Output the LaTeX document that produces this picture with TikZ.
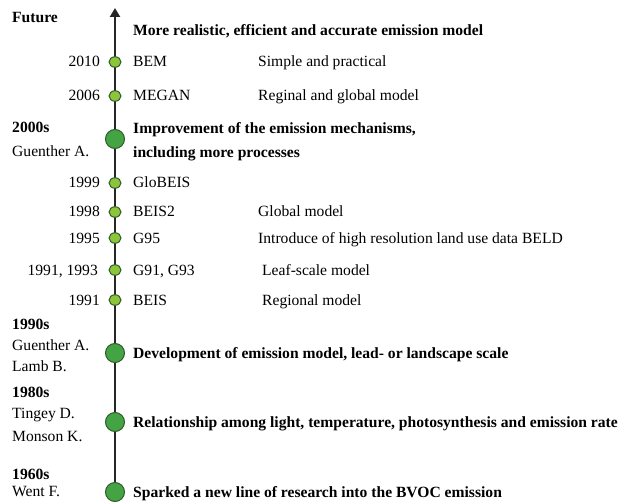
\documentclass[tikz,border=0pt]{standalone}
\usepackage{fontspec}
\setmainfont{Liberation Serif}
\usetikzlibrary{arrows.meta,shapes.geometric}
\definecolor{lgreen}{HTML}{8CC43C}
\definecolor{mgreen}{HTML}{44A444}
\definecolor{dgreen}{HTML}{2F5A2A}
\begin{document}
\begin{tikzpicture}[x=1pt,y=1pt,
  txt/.style={font=\fontsize{15.6}{18}\selectfont, inner sep=0pt, anchor=base west, yshift=-5pt},
  btxt/.style={txt, font=\fontsize{15.6}{18}\selectfont\bfseries},
  yr/.style={font=\fontsize{15.6}{18}\selectfont, inner sep=0pt, anchor=base east, yshift=-5pt},
  smalldot/.style={ellipse, draw=dgreen, line width=1pt, fill=lgreen, minimum width=12pt, minimum height=10.5pt, inner sep=0pt},
  bigdot/.style={circle, draw=dgreen, line width=1pt, fill=mgreen, minimum size=19pt, inner sep=0pt},
  axis/.style={line width=2.2pt, draw=black!85}]
\useasboundingbox (0,0) rectangle (620,501);
\coordinate (top) at (115,493);
\coordinate (bot) at (115,0);
\draw[axis, -{Triangle[length=9pt,width=10pt]}] (bot) -- (top);
% dots
\node[smalldot] (d2010) at (115,439) {};
\node[smalldot] (d2006) at (115,405) {};
\node[bigdot] (d2000) at (115,362) {};
\node[smalldot] (d1999) at (115,318) {};
\node[smalldot] (d1998) at (115,289) {};
\node[smalldot] (d1995) at (115,263) {};
\node[smalldot] (d9193) at (115,231) {};
\node[smalldot] (d1991) at (115,201) {};
\node[bigdot] (d1990) at (115,148) {};
\node[bigdot] (d1980) at (115,79) {};
\node[bigdot] (d1960) at (115,9) {};
% left labels
\node[btxt] (future) at (12,483) {Future};
\node[yr] (y2010) at (100,439) {2010};
\node[yr] (y2006) at (100,405) {2006};
\node[btxt] (s2000) at (12,373) {2000s};
\node[txt] (g2000) at (12,349) {Guenther A.};
\node[yr] (y1999) at (100,318) {1999};
\node[yr] (y1998) at (100,289) {1998};
\node[yr] (y1995) at (100,263) {1995};
\node[yr] (y9193) at (98,231) {1991, 1993};
\node[yr] (y1991) at (100,201) {1991};
\node[btxt] (s1990) at (12,177) {1990s};
\node[txt] (g1990) at (12,156) {Guenther A.};
\node[txt] (l1990) at (12,135) {Lamb B.};
\node[btxt] (s1980) at (12,109) {1980s};
\node[txt] (t1980) at (12,88) {Tingey D.};
\node[txt] (m1980) at (12,65) {Monson K.};
\node[btxt] (s1960) at (12,27) {1960s};
\node[txt] (w1960) at (12,10) {Went F.};
% right labels
\node[btxt] (rfut) at (133,470) {More realistic, efficient and accurate emission model};
\node[txt] (n2010) at (133,439) {BEM};
\node[txt] (c2010) at (258,439) {Simple and practical};
\node[txt] (n2006) at (133,405) {MEGAN};
\node[txt] (c2006) at (258,405) {Reginal and global model};
\node[btxt] (r2000a) at (133,372) {Improvement of the emission mechanisms,};
\node[btxt] (r2000b) at (133,348) {including more processes};
\node[txt] (n1999) at (133,318) {GloBEIS};
\node[txt] (n1998) at (133,289) {BEIS2};
\node[txt] (c1998) at (258,289) {Global model};
\node[txt] (n1995) at (133,263) {G95};
\node[txt] (c1995) at (258,263) {Introduce of high resolution land use data BELD};
\node[txt] (n9193) at (133,231) {G91, G93};
\node[txt] (c9193) at (262,231) {Leaf-scale model};
\node[txt] (n1991) at (133,201) {BEIS};
\node[txt] (c1991) at (262,201) {Regional model};
\node[btxt] (r1990) at (133,148) {Development of emission model, lead- or landscape scale};
\node[btxt] (r1980) at (133,79) {Relationship among light, temperature, photosynthesis and emission rate};
\node[btxt] (r1960) at (133,9) {Sparked a new line of research into the BVOC emission};
\end{tikzpicture}
\end{document}
